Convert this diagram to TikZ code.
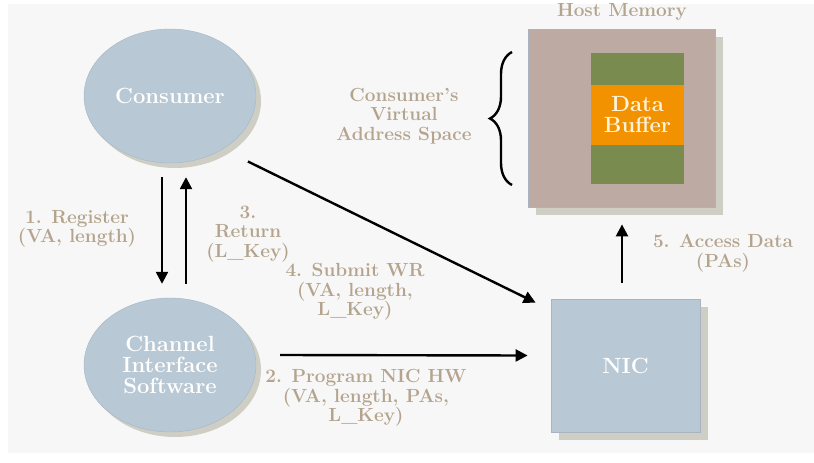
\documentclass[tikz,border=0pt]{standalone}
\usepackage{fontspec}
\usetikzlibrary{shapes.geometric,shadows,arrows.meta,decorations.pathreplacing}

\definecolor{panelgray}{HTML}{F7F7F7}
\definecolor{blobfill}{HTML}{B8C8D4}
\definecolor{blobedge}{HTML}{A3B7C6}
\definecolor{shade}{HTML}{CFCEC4}
\definecolor{tanlbl}{HTML}{B4A48E}
\definecolor{memfill}{HTML}{BCAAA3}
\definecolor{memedge}{HTML}{A9B3C2}
\definecolor{pagegreen}{HTML}{7A8B50}
\definecolor{bufforange}{HTML}{F39200}
\definecolor{cream}{HTML}{FFF4DA}

\tikzset{
  lbl/.style={text=tanlbl, font=\bfseries\fontsize{19}{19.5}\selectfont, align=center, inner sep=0pt},
  wtxt/.style={align=center, font=\bfseries\fontsize{22}{21}\selectfont},
  blob/.style={ellipse, fill=blobfill, draw=blobedge, minimum width=172pt, minimum height=134pt,
    text=white, wtxt,
    drop shadow={shadow xshift=5pt, shadow yshift=-5pt, fill=shade, opacity=1}},
  hwbox/.style={rectangle, draw=memedge, line width=0.8pt,
    drop shadow={shadow xshift=8pt, shadow yshift=-8pt, fill=shade, opacity=1}},
  flow/.style={line width=2.4pt, -{Triangle[length=12pt,width=12pt]}}
}

\begin{document}
\begin{tikzpicture}[x=1pt,y=-1pt]
 % frame
  \useasboundingbox (0,0) rectangle (814,463);
  \fill[white] (0,0) rectangle (814,463);
  \fill[panelgray] (8,4) rectangle (814,453);

 % software side
  \node[blob] (cons) at (170,96) {Consumer};
  \node[blob] (chan) at (170,365) {Channel\\Interface\\Software};

 % hardware side
  \node[hwbox, fill=memfill, minimum width=187pt, minimum height=178pt] (host) at (621.5,118) {};
  \node[rectangle, fill=pagegreen, minimum width=93pt, minimum height=131pt] (page) at (637.5,118.5) {};
  \node[rectangle, fill=bufforange, minimum width=93pt, minimum height=60pt, inner sep=0pt,
    text=cream, wtxt] (buff) at (637.5,115) {Data\\Buffer};
  \node[hwbox, fill=blobfill, minimum width=149pt, minimum height=133pt, text=white, wtxt]
    (nic) at (625.5,365.5) {NIC};

 % labels
  \node[lbl] (hostlbl) at (622,12) {Host Memory};
  \node[lbl] (vaslbl) at (404,116) {Consumer's\\Virtual\\Address Space};
  \node[lbl] (reglbl) at (77,229) {1. Register\\(VA, length)};
  \node[lbl] (retlbl) at (248,234) {3.\\Return\\(L\_Key)};
  \node[lbl] (sublbl) at (355,292) {4. Submit WR\\(VA, length,\\L\_Key)};
  \node[lbl] (proglbl) at (366,398) {2. Program NIC HW\\(VA, length, PAs,\\L\_Key)};
  \node[lbl] (acclbl) at (723,253) {5. Access Data\\(PAs)};

 % brace
  \coordinate (bracebot) at (512,185);
  \coordinate (bracetop) at (512,52);
  \draw[line width=2.4pt, decoration={brace, amplitude=22pt}, decorate] (bracebot) -- (bracetop);

 % arrows
  \draw[flow, shorten <=14pt, shorten >=14pt] ([xshift=-8pt]cons.south) -- ([xshift=-8pt]chan.north);
  \draw[flow, shorten <=14pt, shorten >=14pt] ([xshift=16pt]chan.north) -- ([xshift=16pt]cons.south);
  \draw[flow] ([xshift=17pt,yshift=-18pt]cons.south east) -- ([xshift=-15pt,yshift=-4pt]nic.north west);
  \draw[flow] ([xshift=24pt,yshift=10pt]chan.east) -- ([xshift=-23pt,yshift=10pt]nic.west);
  \draw[flow] ([xshift=-3.5pt,yshift=16pt]nic.north) -- ([xshift=0.5pt,yshift=-17pt]host.south);
\end{tikzpicture}
\end{document}
